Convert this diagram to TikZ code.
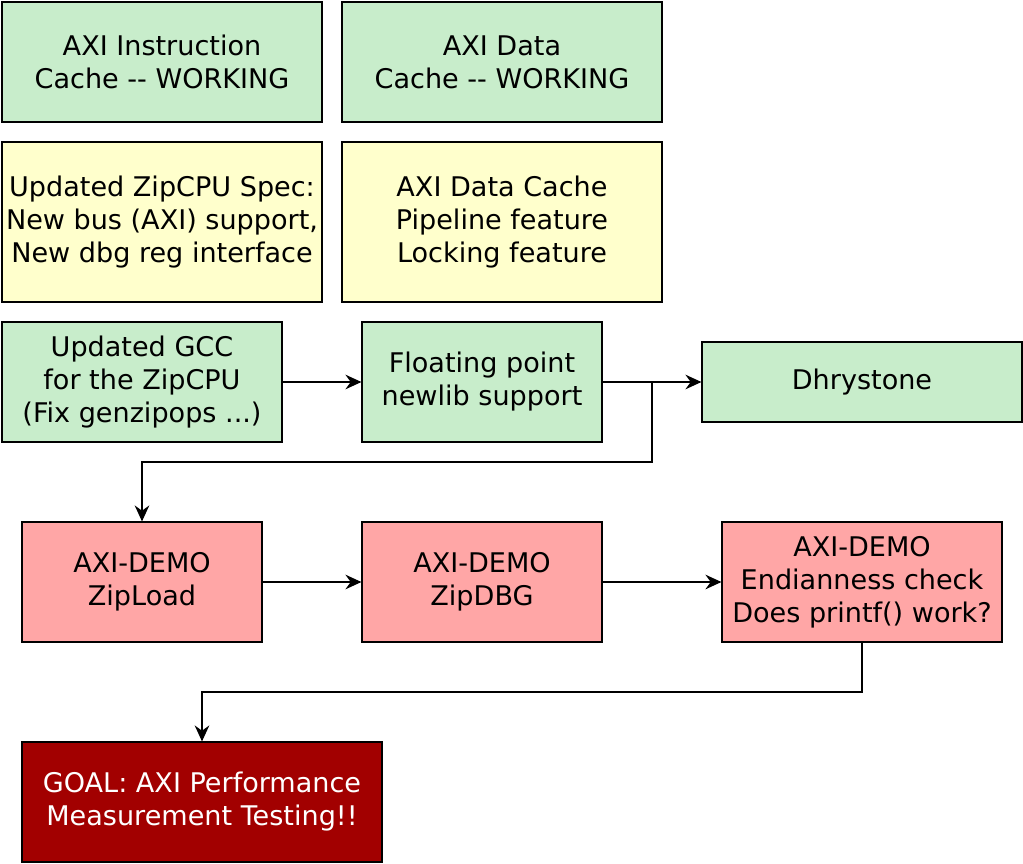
\documentclass[tikz,border=0pt]{standalone}
\usepackage{fontspec}
\setmainfont{DejaVu Sans}
\usetikzlibrary{arrows.meta}
\definecolor{done-green}{RGB}{200, 237, 203}
\definecolor{todo-yellow}{RGB}{255, 255, 204}
\definecolor{demo-red}{RGB}{255, 166, 166}
\definecolor{goal-red}{RGB}{162, 0, 0}

\begin{document}
\begin{tikzpicture}[x=0.75pt, y=-0.75pt,
    box/.style={draw=black, line width=0.9pt, align=center, inner sep=0pt,
        font=\fontsize{20.3pt}{24.75pt}\selectfont},
    done/.style={box, fill=done-green},
    todo/.style={box, fill=todo-yellow},
    demo/.style={box, fill=demo-red},
    goalbox/.style={box, fill=goal-red, text=white},
    link/.style={draw=black, line width=0.9pt, -{Stealth[length=12pt, width=11pt, inset=4pt]}}]
\useasboundingbox (0,0) rectangle (1023,863);
                \node[done, minimum width=240pt, minimum height=90pt] (icache) at (162,62) {AXI Instruction\\Cache -{}- WORKING};
\node[done, minimum width=240pt, minimum height=90pt] (dcache) at (502,62) {AXI Data\\Cache -{}- WORKING};
\node[todo, minimum width=240pt, minimum height=120pt] (zipspec) at (162,222) {Updated ZipCPU Spec:\\New bus (AXI) support,\\New dbg reg interface};
\node[todo, minimum width=240pt, minimum height=120pt] (dcachefeat) at (502,222) {AXI Data Cache\\Pipeline feature\\Locking feature};
\node[done, minimum width=210pt, minimum height=90pt] (gcc) at (142,382) {Updated GCC\\for the ZipCPU\\(Fix genzipops ...)};
\node[done, minimum width=180pt, minimum height=90pt] (newlib) at (482,382) {Floating point\\newlib support};
\node[done, minimum width=240pt, minimum height=60pt] (dhrystone) at (862,382) {Dhrystone};
\node[demo, minimum width=180pt, minimum height=90pt] (zipload) at (142,582) {AXI-DEMO\\ZipLoad};
\node[demo, minimum width=180pt, minimum height=90pt] (zipdbg) at (482,582) {AXI-DEMO\\ZipDBG};
\node[demo, minimum width=210pt, minimum height=90pt] (endian) at (862,582) {AXI-DEMO\\Endianness check\\Does printf() work?};
\node[goalbox, minimum width=270pt, minimum height=90pt] (goal) at (202,802) {GOAL: AXI Performance\\Measurement Testing!!};
\coordinate (bendzip) at (652,462);
\coordinate (bendgoal) at (202,692);
\draw[link] (gcc) -- (newlib);
\draw[link] (newlib) -- (dhrystone);
\draw[link] (newlib.east) -| (bendzip) -| (zipload.north);
\draw[link] (zipload) -- (zipdbg);
\draw[link] (zipdbg) -- (endian);
\draw[link] (endian.south) |- (bendgoal) -- (goal.north);
            \end{tikzpicture}
\end{document}
